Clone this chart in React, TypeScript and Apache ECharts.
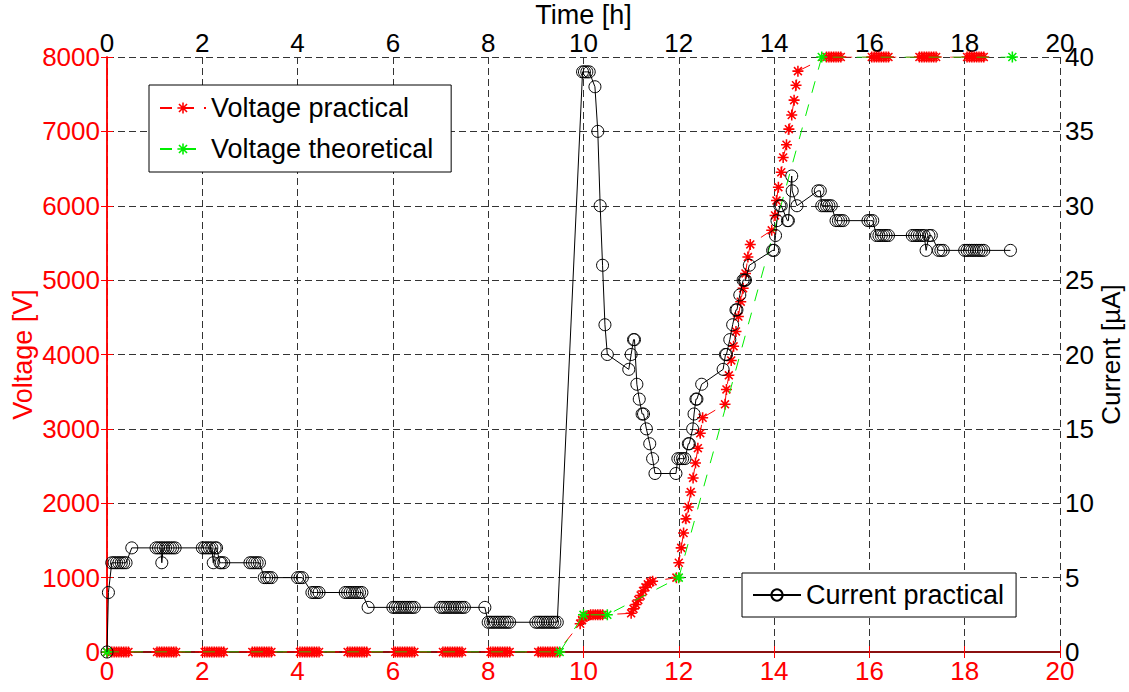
import React, { useEffect, useRef } from 'react';
import * as echarts from 'echarts';

const FONT = '"Liberation Sans", Arial, Helvetica, sans-serif';

const timeTickLabels = ['0', '2', '4', '6', '8', '10', '12', '14', '16', '18', '20'];
const voltageTickLabels = ['0', '1000', '2000', '3000', '4000', '5000', '6000', '7000', '8000'];
const currentTickLabels = ['0', '5', '10', '15', '20', '25', '30', '35', '40'];

const voltagePractical: [number, number][] = [
  [0, 0], [0.1, 0], [0.15, 0], [0.2, 0], [0.25, 0], [0.3, 0], [0.35, 0], [0.4, 0], [0.45, 0],
  [1.05, 0], [1.1, 0], [1.15, 0], [1.2, 0], [1.25, 0], [1.3, 0], [1.35, 0], [1.4, 0], [1.45, 0],
  [2.05, 0], [2.1, 0], [2.15, 0], [2.2, 0], [2.25, 0], [2.3, 0], [2.35, 0], [2.4, 0], [2.45, 0],
  [3.05, 0], [3.1, 0], [3.15, 0], [3.2, 0], [3.25, 0], [3.3, 0], [3.35, 0], [3.4, 0], [3.45, 0],
  [4.05, 0], [4.1, 0], [4.15, 0], [4.2, 0], [4.25, 0], [4.3, 0], [4.35, 0], [4.4, 0], [4.45, 0],
  [5.05, 0], [5.1, 0], [5.15, 0], [5.2, 0], [5.25, 0], [5.3, 0], [5.35, 0], [5.4, 0], [5.45, 0],
  [6.05, 0], [6.1, 0], [6.15, 0], [6.2, 0], [6.25, 0], [6.3, 0], [6.35, 0], [6.4, 0], [6.45, 0],
  [7.05, 0], [7.1, 0], [7.15, 0], [7.2, 0], [7.25, 0], [7.3, 0], [7.35, 0], [7.4, 0], [7.45, 0],
  [8.05, 0], [8.1, 0], [8.15, 0], [8.2, 0], [8.25, 0], [8.3, 0], [8.35, 0], [8.4, 0], [8.45, 0],
  [9.05, 0], [9.1, 0], [9.15, 0], [9.2, 0], [9.25, 0], [9.3, 0], [9.35, 0], [9.4, 0], [9.45, 0],
  [9.93, 380], [9.97, 430], [10.0, 460], [10.05, 480], [10.1, 490], [10.15, 500], [10.2, 500],
  [10.25, 500], [10.3, 500], [10.35, 500], [10.4, 500],
  [11.0, 520], [11.05, 580], [11.1, 640], [11.15, 700], [11.2, 760], [11.25, 820], [11.3, 870],
  [11.35, 910], [11.4, 940], [11.45, 950],
  [11.95, 1000], [12.0, 1200], [12.05, 1400], [12.1, 1600], [12.15, 1790], [12.2, 1950],
  [12.25, 2150], [12.3, 2340], [12.35, 2540], [12.4, 2740], [12.45, 2940], [12.5, 3150],
  [12.97, 3330], [13.0, 3530], [13.05, 3720], [13.1, 3920], [13.15, 4110], [13.2, 4310],
  [13.25, 4510], [13.3, 4710], [13.35, 4890], [13.4, 5090], [13.45, 5310], [13.5, 5480],
  [13.95, 5670], [14.02, 5870], [14.05, 6070], [14.09, 6250], [14.15, 6450], [14.19, 6650],
  [14.26, 6820], [14.31, 7030], [14.37, 7220], [14.42, 7420], [14.46, 7620], [14.5, 7810],
  [15.1, 8000], [15.15, 8000], [15.2, 8000], [15.25, 8000], [15.3, 8000], [15.35, 8000], [15.4, 8000],
  [16.05, 8000], [16.1, 8000], [16.15, 8000], [16.2, 8000], [16.25, 8000], [16.3, 8000], [16.35, 8000], [16.4, 8000],
  [17.05, 8000], [17.1, 8000], [17.15, 8000], [17.2, 8000], [17.25, 8000], [17.3, 8000], [17.35, 8000], [17.4, 8000],
  [18.05, 8000], [18.1, 8000], [18.15, 8000], [18.2, 8000], [18.25, 8000], [18.3, 8000], [18.35, 8000], [18.4, 8000],
];

const voltageTheoretical: [number, number][] = [
  [0, 0], [9.5, 0], [10, 500], [10.5, 500], [12, 1000], [15, 8000], [19, 8000],
];

const currentPractical: [number, number][] = [
  [0, 0], [0.03, 4], [0.1, 6], [0.15, 6], [0.2, 6], [0.25, 6], [0.3, 6], [0.35, 6], [0.4, 6],
  [0.52, 7], [1.03, 7], [1.08, 7], [1.13, 7], [1.15, 6], [1.18, 7], [1.23, 7], [1.28, 7],
  [1.33, 7], [1.38, 7], [1.43, 7],
  [2.0, 7], [2.05, 7], [2.1, 7], [2.15, 7], [2.2, 7], [2.23, 6], [2.27, 7], [2.3, 7],
  [2.37, 6], [2.4, 6], [2.45, 6],
  [3.0, 6], [3.05, 6], [3.1, 6], [3.15, 6], [3.2, 6], [3.3, 5], [3.35, 5], [3.4, 5], [3.45, 5],
  [4.0, 5], [4.05, 5], [4.1, 5], [4.3, 4], [4.35, 4], [4.4, 4], [4.45, 4],
  [5.0, 4], [5.05, 4], [5.1, 4], [5.15, 4], [5.2, 4], [5.25, 4], [5.3, 4], [5.35, 4], [5.48, 3],
  [6.0, 3], [6.05, 3], [6.1, 3], [6.15, 3], [6.2, 3], [6.25, 3], [6.3, 3], [6.35, 3], [6.4, 3], [6.45, 3],
  [7.0, 3], [7.05, 3], [7.1, 3], [7.15, 3], [7.2, 3], [7.25, 3], [7.3, 3], [7.35, 3], [7.4, 3], [7.45, 3], [7.5, 3],
  [7.93, 3], [8.0, 2], [8.05, 2], [8.1, 2], [8.15, 2], [8.2, 2], [8.25, 2], [8.3, 2], [8.35, 2], [8.4, 2], [8.45, 2],
  [9.0, 2], [9.05, 2], [9.1, 2], [9.15, 2], [9.2, 2], [9.25, 2], [9.3, 2], [9.35, 2], [9.4, 2], [9.45, 2],
  [9.98, 39], [10.02, 39], [10.07, 39], [10.12, 39], [10.24, 38], [10.3, 35], [10.35, 30],
  [10.4, 26], [10.45, 22], [10.5, 20], [10.95, 19], [11.0, 20], [11.05, 21], [11.07, 21],
  [11.12, 18], [11.17, 17], [11.23, 16], [11.26, 16], [11.32, 15], [11.39, 14], [11.45, 13],
  [11.5, 12], [11.94, 12], [11.98, 13], [12.03, 13], [12.08, 13], [12.13, 13], [12.2, 14],
  [12.22, 14], [12.29, 15], [12.32, 16], [12.36, 17], [12.38, 17], [12.48, 18], [12.93, 19],
  [12.98, 20], [13.0, 20], [13.07, 21], [13.13, 22], [13.2, 23], [13.22, 23], [13.28, 24],
  [13.35, 25], [13.38, 25], [13.4, 25], [13.48, 26], [13.97, 27], [14.0, 27], [14.03, 28],
  [14.06, 29], [14.12, 30], [14.15, 30], [14.28, 29], [14.3, 29], [14.37, 32], [14.38, 31],
  [14.48, 30], [14.92, 31], [14.97, 31], [15.0, 30], [15.05, 30], [15.1, 30], [15.15, 30],
  [15.2, 30], [15.3, 29], [15.35, 29], [15.4, 29], [15.45, 29], [15.97, 29], [16.02, 29],
  [16.07, 29], [16.15, 28], [16.2, 28], [16.25, 28], [16.3, 28], [16.35, 28], [16.4, 28],
  [16.9, 28], [16.95, 28], [17.0, 28], [17.05, 28], [17.1, 28], [17.15, 28], [17.19, 27],
  [17.25, 28], [17.3, 28], [17.45, 27], [17.5, 27], [17.55, 27],
  [18.0, 27], [18.05, 27], [18.1, 27], [18.15, 27], [18.2, 27], [18.25, 27], [18.3, 27],
  [18.35, 27], [18.4, 27], [18.96, 27],
];

const STAR =
  'path://M4.3,0h1.4v4.3h4.3v1.4h-4.3v4.3h-1.4v-4.3h-4.3v-1.4h4.3z' +
  'M0.9,1.9l1,-1l3.1,3.1l3.1,-3.1l1,1l-3.1,3.1l3.1,3.1l-1,1l-3.1,-3.1l-3.1,3.1l-1,-1l3.1,-3.1z';

const gridLine = { show: true, lineStyle: { color: '#333', type: [7, 4] as number[], width: 1 } };

export default function App() {
  const ref = useRef<HTMLDivElement>(null);
  useEffect(() => {
    document.body.style.margin = '0';
    const chart = echarts.init(ref.current!, null, { renderer: 'svg' });
    chart.setOption({
      animation: false,
      backgroundColor: '#fff',
      textStyle: { fontFamily: FONT },
      grid: { left: 107, right: 69, top: 57, bottom: 40, outerBoundsMode: 'none', containLabel: false },
      legend: [
        {
          data: ['Voltage practical', 'Voltage theoretical'],
          orient: 'vertical',
          left: 149,
          top: 85,
          padding: [8, 18, 8, 10],
          itemGap: 11,
          itemWidth: 46,
          itemHeight: 14,
          selectedMode: false,
          backgroundColor: '#fff',
          borderColor: '#000',
          borderWidth: 1,
          textStyle: { fontSize: 27, color: '#000', lineHeight: 30, fontFamily: FONT },
        },
        {
          data: ['Current practical'],
          left: 742,
          top: 573,
          padding: [7, 12, 7, 10],
          itemWidth: 48,
          itemHeight: 14,
          selectedMode: false,
          backgroundColor: '#fff',
          borderColor: '#000',
          borderWidth: 1,
          textStyle: { fontSize: 27, color: '#000', lineHeight: 30, fontFamily: FONT },
        },
      ],
      xAxis: [
        {
          type: 'value',
          position: 'bottom',
          min: 0,
          max: 20,
          interval: 2,
          axisLine: { show: true, lineStyle: { color: '#ff0000', width: 1.5 } },
          axisTick: { show: true, inside: true, length: 6, lineStyle: { color: '#ff0000' } },
          axisLabel: {
            color: '#ff0000', fontSize: 26, margin: 6, fontFamily: FONT,
            formatter: (v: number) => timeTickLabels[Math.round(v / 2)] ?? String(v),
          },
          splitLine: gridLine,
        },
        {
          type: 'value',
          position: 'top',
          min: 0,
          max: 20,
          interval: 2,
          name: 'Time [h]',
          nameLocation: 'middle',
          nameGap: 28,
          nameMoveOverlap: false,
          nameTextStyle: { fontSize: 27, color: '#000', fontFamily: FONT, lineHeight: 28 },
          axisLine: { show: true, lineStyle: { color: '#8b1010', width: 2 } },
          axisTick: { show: true, inside: true, length: 6, lineStyle: { color: '#ff0000' } },
          axisLabel: {
            color: '#000', fontSize: 26, margin: 1, fontFamily: FONT,
            formatter: (v: number) => timeTickLabels[Math.round(v / 2)] ?? String(v),
          },
          splitLine: { show: false },
        },
      ],
      yAxis: [
        {
          type: 'value',
          position: 'left',
          min: 0,
          max: 8000,
          interval: 1000,
          name: 'Voltage [V]',
          nameLocation: 'middle',
          nameGap: 71,
          nameMoveOverlap: false,
          nameTextStyle: { fontSize: 27, color: '#ff0000', fontFamily: FONT },
          axisLine: { show: true, lineStyle: { color: '#ff0000', width: 1.5 } },
          axisTick: { show: true, inside: true, length: 6, lineStyle: { color: '#ff0000' } },
          axisLabel: {
            color: '#ff0000', fontSize: 26, margin: 7, fontFamily: FONT,
            formatter: (v: number) => voltageTickLabels[Math.round(v / 1000)] ?? String(v),
          },
          splitLine: gridLine,
        },
        {
          type: 'value',
          position: 'right',
          min: 0,
          max: 40,
          interval: 5,
          name: 'Current [µA]',
          nameLocation: 'middle',
          nameGap: 37,
          nameMoveOverlap: false,
          nameTextStyle: { fontSize: 26, color: '#000', fontFamily: FONT, lineHeight: 28 },
          axisLine: { show: true, lineStyle: { color: '#ff0000', width: 1.5 } },
          axisTick: { show: true, inside: true, length: 6, lineStyle: { color: '#ff0000' } },
          axisLabel: {
            color: '#000', fontSize: 26, margin: 5, fontFamily: FONT,
            formatter: (v: number) => currentTickLabels[Math.round(v / 5)] ?? String(v),
          },
          splitLine: { show: false },
        },
      ],
      series: [
        {
          name: 'Voltage practical',
          type: 'line',
          xAxisIndex: 0,
          yAxisIndex: 0,
          data: voltagePractical,
          symbol: STAR,
          symbolSize: 11,
          showAllSymbol: true,
          itemStyle: { color: '#ff0000', borderWidth: 0 },
          lineStyle: { color: '#ff0000', width: 1, type: [12, 10] },
          z: 2,
        },
        {
          name: 'Voltage theoretical',
          type: 'line',
          xAxisIndex: 0,
          yAxisIndex: 0,
          data: voltageTheoretical,
          symbol: STAR,
          symbolSize: 11,
          showAllSymbol: true,
          itemStyle: { color: '#00ee00', borderWidth: 0 },
          lineStyle: { color: '#00ee00', width: 1, type: [12, 12] },
          z: 3,
        },
        {
          name: 'Current practical',
          type: 'line',
          xAxisIndex: 0,
          yAxisIndex: 1,
          data: currentPractical,
          symbol: 'circle',
          symbolSize: 12,
          showAllSymbol: true,
          itemStyle: { color: 'rgba(0,0,0,0)', borderColor: '#000', borderWidth: 1 },
          lineStyle: { color: '#000', width: 1 },
          z: 4,
        },
      ],
    });
    return () => chart.dispose();
  }, []);
  return <div ref={ref} style={{ width: 1129, height: 692 }} />;
}
